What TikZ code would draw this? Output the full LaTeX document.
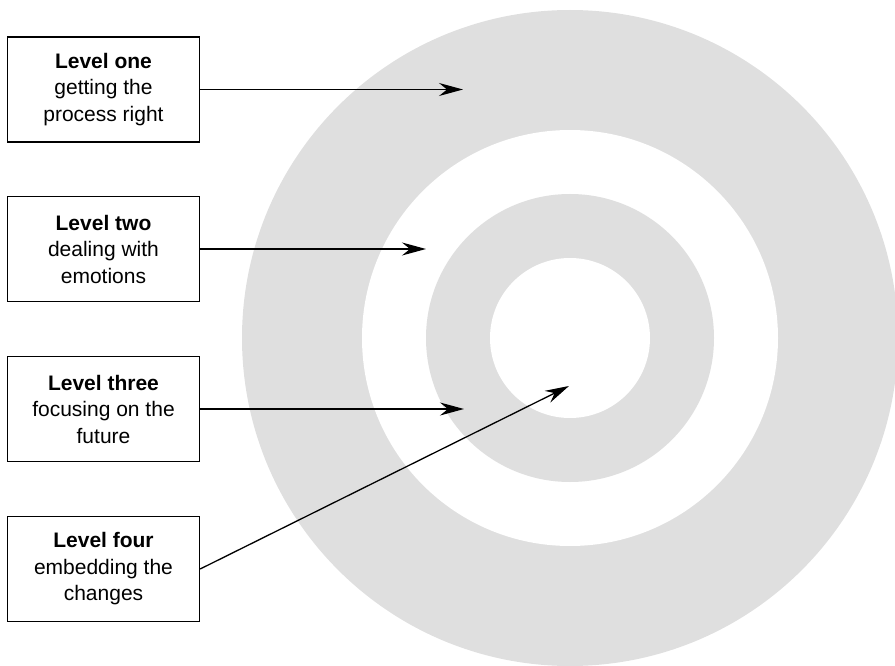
\documentclass[tikz,border=0pt]{standalone}
\usepackage{fontspec}
\setmainfont{Liberation Sans}
\usetikzlibrary{arrows.meta}
\definecolor{ringgray}{RGB}{223,223,223}
\tikzset{
  levelbox/.style={draw, line width=1.3pt, minimum width=192pt, minimum height=105pt,
    align=center, font=\fontsize{21}{26.5}\selectfont},
  pointer/.style={-{Stealth[length=24pt, width=13pt, inset=8pt]}, line width=1.3pt}
}
\begin{document}
\begin{tikzpicture}[x=1pt, y=-1pt]
    \useasboundingbox (0,0) rectangle (895,666);
    \clip (0,0) rectangle (895,666);

    % Target rings
    \fill[ringgray] (570,338) circle (328pt);
    \fill[white]    (570,338) circle (208pt);
    \fill[ringgray] (570,338) circle (144pt);
    \fill[white]    (570,338) circle (80pt);

    % Level boxes
    \node[levelbox] (one)   at (103.5, 89.5) {\textbf{Level one}\\getting the\\process right};
    \node[levelbox] (two)   at (103.5, 249)  {\textbf{Level two}\\dealing with\\emotions};
    \node[levelbox] (three) at (103.5, 409)  {\textbf{Level three}\\focusing on the\\future};
    \node[levelbox] (four)  at (103.5, 569)  {\textbf{Level four}\\embedding the\\changes};

    % Arrow ends
    \coordinate (tipone)   at (463, 89.5);
    \coordinate (tiptwo)   at (426, 249);
    \coordinate (tipthree) at (464, 409);
    \coordinate (tipfour)  at (569, 386);

    % Arrows
    \draw[pointer] (one.east)   -- (tipone);
    \draw[pointer] (two.east)   -- (tiptwo);
    \draw[pointer] (three.east) -- (tipthree);
    \draw[pointer] (four.east)  -- (tipfour);
\end{tikzpicture}
\end{document}
